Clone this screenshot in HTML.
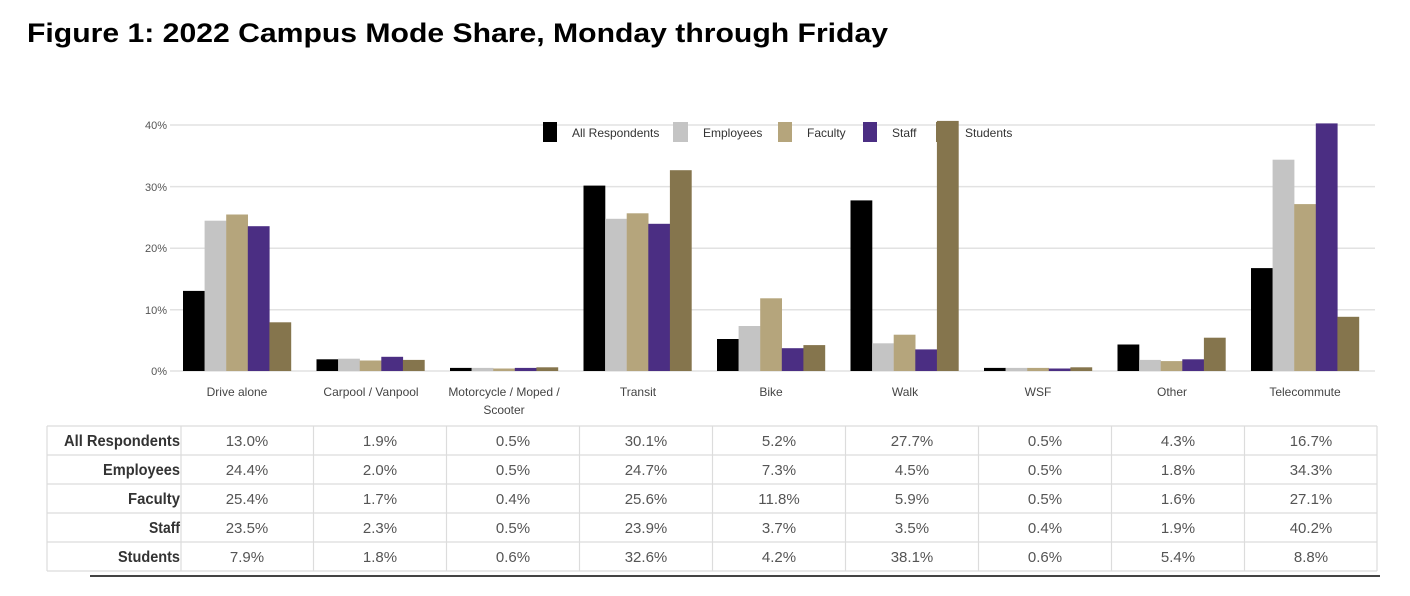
<!DOCTYPE html>
<html><head><meta charset="utf-8"><style>
html,body{margin:0;padding:0;background:#fff;width:1410px;height:596px;overflow:hidden}
svg{display:block}
</style></head><body>
<svg width="1410" height="596" viewBox="0 0 1410 596" xmlns="http://www.w3.org/2000/svg" font-family="Liberation Sans, sans-serif">
<text x="27" y="42" font-size="27" font-weight="bold" fill="#000" textLength="861" lengthAdjust="spacingAndGlyphs">Figure 1: 2022 Campus Mode Share, Monday through Friday</text>
<g stroke="#e2e2e2" stroke-width="1.5">
<line x1="170" y1="125" x2="1375" y2="125"/><line x1="170" y1="186.6" x2="1375" y2="186.6"/><line x1="170" y1="248.2" x2="1375" y2="248.2"/><line x1="170" y1="309.8" x2="1375" y2="309.8"/><line x1="170" y1="371" x2="1375" y2="371"/>
</g>
<g font-size="11" fill="#555" text-anchor="end">
<text x="167" y="129">40%</text><text x="167" y="191">30%</text><text x="167" y="252">20%</text><text x="167" y="314">10%</text><text x="167" y="375">0%</text>
</g>
<g id="bars">
<g transform="translate(183,371)"><rect x="0" y="-80.1" width="21.8" height="80.1" fill="#000"/><rect x="21.6" y="-150.3" width="21.8" height="150.3" fill="#c4c4c4"/><rect x="43.2" y="-156.5" width="21.8" height="156.5" fill="#b5a57c"/><rect x="64.8" y="-144.8" width="21.8" height="144.8" fill="#4b2e83"/><rect x="86.4" y="-48.7" width="21.8" height="48.7" fill="#85754d"/></g>
<g transform="translate(316.5,371)"><rect x="0" y="-11.7" width="21.8" height="11.7" fill="#000"/><rect x="21.6" y="-12.3" width="21.8" height="12.3" fill="#c4c4c4"/><rect x="43.2" y="-10.5" width="21.8" height="10.5" fill="#b5a57c"/><rect x="64.8" y="-14.2" width="21.8" height="14.2" fill="#4b2e83"/><rect x="86.4" y="-11.1" width="21.8" height="11.1" fill="#85754d"/></g>
<g transform="translate(450,371)"><rect x="0" y="-3.1" width="21.8" height="3.1" fill="#000"/><rect x="21.6" y="-3.1" width="21.8" height="3.1" fill="#c4c4c4"/><rect x="43.2" y="-2.5" width="21.8" height="2.5" fill="#b5a57c"/><rect x="64.8" y="-3.1" width="21.8" height="3.1" fill="#4b2e83"/><rect x="86.4" y="-3.7" width="21.8" height="3.7" fill="#85754d"/></g>
<g transform="translate(583.5,371)"><rect x="0" y="-185.4" width="21.8" height="185.4" fill="#000"/><rect x="21.6" y="-152.2" width="21.8" height="152.2" fill="#c4c4c4"/><rect x="43.2" y="-157.7" width="21.8" height="157.7" fill="#b5a57c"/><rect x="64.8" y="-147.2" width="21.8" height="147.2" fill="#4b2e83"/><rect x="86.4" y="-200.8" width="21.8" height="200.8" fill="#85754d"/></g>
<g transform="translate(717,371)"><rect x="0" y="-32" width="21.8" height="32" fill="#000"/><rect x="21.6" y="-45" width="21.8" height="45" fill="#c4c4c4"/><rect x="43.2" y="-72.7" width="21.8" height="72.7" fill="#b5a57c"/><rect x="64.8" y="-22.8" width="21.8" height="22.8" fill="#4b2e83"/><rect x="86.4" y="-25.9" width="21.8" height="25.9" fill="#85754d"/></g>
<g transform="translate(850.5,371)"><rect x="0" y="-170.6" width="21.8" height="170.6" fill="#000"/><rect x="21.6" y="-27.7" width="21.8" height="27.7" fill="#c4c4c4"/><rect x="43.2" y="-36.3" width="21.8" height="36.3" fill="#b5a57c"/><rect x="64.8" y="-21.6" width="21.8" height="21.6" fill="#4b2e83"/><rect x="86.4" y="-250.1" width="21.8" height="250.1" fill="#85754d"/></g>
<g transform="translate(984,371)"><rect x="0" y="-3.1" width="21.8" height="3.1" fill="#000"/><rect x="21.6" y="-3.1" width="21.8" height="3.1" fill="#c4c4c4"/><rect x="43.2" y="-3.1" width="21.8" height="3.1" fill="#b5a57c"/><rect x="64.8" y="-2.5" width="21.8" height="2.5" fill="#4b2e83"/><rect x="86.4" y="-3.7" width="21.8" height="3.7" fill="#85754d"/></g>
<g transform="translate(1117.5,371)"><rect x="0" y="-26.5" width="21.8" height="26.5" fill="#000"/><rect x="21.6" y="-11.1" width="21.8" height="11.1" fill="#c4c4c4"/><rect x="43.2" y="-9.9" width="21.8" height="9.9" fill="#b5a57c"/><rect x="64.8" y="-11.7" width="21.8" height="11.7" fill="#4b2e83"/><rect x="86.4" y="-33.3" width="21.8" height="33.3" fill="#85754d"/></g>
<g transform="translate(1251,371)"><rect x="0" y="-102.9" width="21.8" height="102.9" fill="#000"/><rect x="21.6" y="-211.3" width="21.8" height="211.3" fill="#c4c4c4"/><rect x="43.2" y="-166.9" width="21.8" height="166.9" fill="#b5a57c"/><rect x="64.8" y="-247.6" width="21.8" height="247.6" fill="#4b2e83"/><rect x="86.4" y="-54.2" width="21.8" height="54.2" fill="#85754d"/></g>
</g>
<g font-size="12" fill="#333">
<rect x="543" y="122" width="14" height="20" fill="#000"/><text x="572" y="137">All Respondents</text>
<rect x="673" y="122" width="15" height="20" fill="#c4c4c4"/><text x="703" y="137">Employees</text>
<rect x="778" y="122" width="14" height="20" fill="#b5a57c"/><text x="807" y="137">Faculty</text>
<rect x="863" y="122" width="14" height="20" fill="#4b2e83"/><text x="892" y="137">Staff</text>
<rect x="936" y="122" width="14" height="20" fill="#85754d"/><text x="965" y="137">Students</text>
</g>
<g font-size="12" fill="#444" text-anchor="middle">
<text x="237" y="396">Drive alone</text>
<text x="371" y="396">Carpool / Vanpool</text>
<text x="504" y="396">Motorcycle / Moped /</text><text x="504" y="414">Scooter</text>
<text x="638" y="396">Transit</text>
<text x="771" y="396">Bike</text>
<text x="905" y="396">Walk</text>
<text x="1038" y="396">WSF</text>
<text x="1172" y="396">Other</text>
<text x="1305" y="396">Telecommute</text>
</g>
<g stroke="#dcdcdc" stroke-width="1.2">
<line x1="47" y1="426" x2="1377" y2="426"/><line x1="47" y1="455" x2="1377" y2="455"/><line x1="47" y1="484" x2="1377" y2="484"/><line x1="47" y1="513" x2="1377" y2="513"/><line x1="47" y1="542" x2="1377" y2="542"/><line x1="47" y1="571" x2="1377" y2="571"/>
<line x1="47" y1="426" x2="47" y2="571"/><line x1="181" y1="426" x2="181" y2="571"/><line x1="313.5" y1="426" x2="313.5" y2="571"/><line x1="446.5" y1="426" x2="446.5" y2="571"/><line x1="579.5" y1="426" x2="579.5" y2="571"/><line x1="712.5" y1="426" x2="712.5" y2="571"/><line x1="845.5" y1="426" x2="845.5" y2="571"/><line x1="978.5" y1="426" x2="978.5" y2="571"/><line x1="1111.5" y1="426" x2="1111.5" y2="571"/><line x1="1244.5" y1="426" x2="1244.5" y2="571"/><line x1="1377" y1="426" x2="1377" y2="571"/>
</g>
<line x1="90" y1="576" x2="1380" y2="576" stroke="#444" stroke-width="2"/>
<g font-size="16" font-weight="bold" fill="#333" text-anchor="end">
<text x="180" y="446" textLength="116" lengthAdjust="spacingAndGlyphs">All Respondents</text>
<text x="180" y="475" textLength="77" lengthAdjust="spacingAndGlyphs">Employees</text>
<text x="180" y="504" textLength="52" lengthAdjust="spacingAndGlyphs">Faculty</text>
<text x="180" y="533" textLength="31" lengthAdjust="spacingAndGlyphs">Staff</text>
<text x="180" y="562" textLength="62" lengthAdjust="spacingAndGlyphs">Students</text>
</g>
<g font-size="15" fill="#555" text-anchor="middle">
<text x="247" y="446">13.0%</text><text x="380" y="446">1.9%</text><text x="513" y="446">0.5%</text><text x="646" y="446">30.1%</text><text x="779" y="446">5.2%</text><text x="912" y="446">27.7%</text><text x="1045" y="446">0.5%</text><text x="1178" y="446">4.3%</text><text x="1311" y="446">16.7%</text>
<text x="247" y="475">24.4%</text><text x="380" y="475">2.0%</text><text x="513" y="475">0.5%</text><text x="646" y="475">24.7%</text><text x="779" y="475">7.3%</text><text x="912" y="475">4.5%</text><text x="1045" y="475">0.5%</text><text x="1178" y="475">1.8%</text><text x="1311" y="475">34.3%</text>
<text x="247" y="504">25.4%</text><text x="380" y="504">1.7%</text><text x="513" y="504">0.4%</text><text x="646" y="504">25.6%</text><text x="779" y="504">11.8%</text><text x="912" y="504">5.9%</text><text x="1045" y="504">0.5%</text><text x="1178" y="504">1.6%</text><text x="1311" y="504">27.1%</text>
<text x="247" y="533">23.5%</text><text x="380" y="533">2.3%</text><text x="513" y="533">0.5%</text><text x="646" y="533">23.9%</text><text x="779" y="533">3.7%</text><text x="912" y="533">3.5%</text><text x="1045" y="533">0.4%</text><text x="1178" y="533">1.9%</text><text x="1311" y="533">40.2%</text>
<text x="247" y="562">7.9%</text><text x="380" y="562">1.8%</text><text x="513" y="562">0.6%</text><text x="646" y="562">32.6%</text><text x="779" y="562">4.2%</text><text x="912" y="562">38.1%</text><text x="1045" y="562">0.6%</text><text x="1178" y="562">5.4%</text><text x="1311" y="562">8.8%</text>
</g>
</svg>
</body></html>
